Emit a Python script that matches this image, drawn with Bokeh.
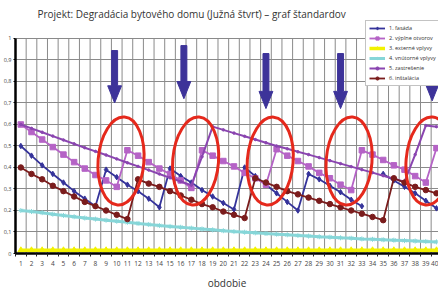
from bokeh.plotting import figure
from bokeh.models import (FixedTicker, Legend, LegendItem, Label, ColumnDataSource,
                          Range1d, CustomJSTickFormatter, PolyAnnotation)
from bokeh.embed import file_html
from bokeh.resources import INLINE

nan = float("nan")

periods = list(range(1, 41))

fasada = [0.50, 0.455, 0.41, 0.37, 0.33, 0.29, 0.255, 0.22,
          0.39, 0.355, 0.32, 0.29, 0.255, 0.215,
          0.395, 0.36, 0.33, 0.295, 0.265, 0.235, 0.205,
          0.40, 0.36, 0.32, 0.28, 0.24, 0.20,
          0.37, 0.345, 0.315, 0.285, 0.25, 0.22,
          nan,
          0.37, 0.34, 0.31, 0.28, 0.245, 0.21]

vyplne = [0.60, 0.565, 0.53, 0.495, 0.46, 0.425, 0.395, 0.365, 0.34, 0.31,
          0.48, 0.455, 0.425, 0.395, 0.37, 0.34, 0.305,
          0.48, 0.455, 0.43, 0.405, 0.375, 0.35, 0.32,
          0.485, 0.455, 0.43, 0.405, 0.375, 0.35, 0.32, 0.295,
          0.48, 0.46, 0.435, 0.41, 0.39, 0.36, 0.33,
          0.49]

externe = [0.015, 0.015, 0.015, 0.015, 0.015, 0.015, 0.015, 0.015, 0.015, 0.015,
           0.015, 0.015, 0.015, 0.015, 0.015, 0.015, 0.015, 0.015, 0.015, 0.015,
           0.015, 0.015, 0.015, 0.015, 0.015, 0.015, 0.015, 0.015, 0.015, 0.015,
           0.015, 0.015, 0.015, 0.015, 0.015, 0.015, 0.015, 0.015, 0.015, 0.015]

vnutorne = [0.20, 0.195, 0.19, 0.183, 0.177, 0.171, 0.165, 0.16, 0.155, 0.15,
            0.145, 0.14, 0.135, 0.13, 0.126, 0.122, 0.118, 0.114, 0.11, 0.106,
            0.102, 0.099, 0.096, 0.093, 0.09, 0.087, 0.084, 0.081, 0.078, 0.076,
            0.073, 0.071, 0.068, 0.066, 0.064, 0.062, 0.06, 0.058, 0.056, 0.054]

zastresenie = [0.60, 0.582, 0.564, 0.546, 0.528, 0.51, 0.492, 0.475, 0.458, 0.44,
               0.422, 0.405, 0.388, 0.37, 0.352, 0.335, 0.318,
               0.45,
               0.59, 0.575, 0.56, 0.545, 0.53, 0.515, 0.50, 0.487, 0.473, 0.46,
               0.446, 0.432, 0.418, 0.404, 0.39, 0.376, 0.362, 0.348, 0.334,
               0.46,
               0.595, 0.59]

instalacia = [0.40, 0.37, 0.345, 0.315, 0.29, 0.265, 0.24, 0.22, 0.20, 0.18, 0.16,
              0.345, 0.325, 0.31, 0.29, 0.27, 0.25, 0.23, 0.215, 0.195, 0.18, 0.165,
              0.35, 0.33, 0.31, 0.29, 0.275, 0.26, 0.245, 0.23, 0.215, 0.20, 0.185, 0.17, 0.155,
              0.35, 0.33, 0.31, 0.295, 0.28]

series_names = ["1. fasáda", "2. výplne otvorov", "3. externé vplyvy",
                "4. vnútorné vplyvy", "5. zastrešenie", "6. inštalácia"]

y_ticks = [0, 0.1, 0.2, 0.3, 0.4, 0.5, 0.6, 0.7, 0.8, 0.9, 1.0]

# annotation shapes (highlighted periods)
ellipse_x = [10.4, 17.4, 24.4, 31.8, 39.3]
ellipse_y = [0.43, 0.43, 0.43, 0.43, 0.43]
arrow_x = [9.8, 16.3, 24.0, 31.0, 39.6]
arrow_top = [0.944, 0.967, 0.93, 0.93, 0.86]
arrow_tip = [0.70, 0.72, 0.674, 0.674, 0.71]

title_text = "Projekt: Degradácia bytového domu (Južná štvrť) – graf štandardov"
x_title = "obdobie"

FONT = "Open Sans"
Y_TOP = 1.1767   # canvas top (title area above the value 1)

p = figure(width=438, height=292, output_backend="svg", toolbar_location=None,
           x_range=Range1d(0.5, 40.19), y_range=Range1d(0, Y_TOP),
           min_border_left=15, min_border_right=0, min_border_top=0,
           min_border_bottom=39)
p.title.visible = False
p.outline_line_color = None
p.background_fill_color = "white"
p.border_fill_color = "white"

# grids: horizontal via ygrid, vertical lines between periods limited to 0..1
p.xgrid.visible = False
p.ygrid.ticker = FixedTicker(ticks=y_ticks)
p.ygrid.grid_line_color = "#8a8a8a"
p.ygrid.grid_line_width = 1
vgrid_x = [i + 0.5 for i in range(0, 41)]
vg = p.segment(x0=vgrid_x, y0=[0] * len(vgrid_x), x1=vgrid_x, y1=[1] * len(vgrid_x),
               line_color="#8a8a8a", line_width=1)
vg.level = "underlay"

# x axis
p.xaxis.ticker = FixedTicker(ticks=periods, minor_ticks=vgrid_x)
p.xaxis.major_tick_out = 0
p.xaxis.major_tick_in = 0
p.xaxis.minor_tick_out = 3
p.xaxis.minor_tick_in = 0
p.xaxis.minor_tick_line_color = "#222222"
p.xaxis.axis_line_width = 2.5
p.xaxis.axis_line_color = "black"
p.xaxis.major_label_text_font_size = "6.5px"
p.xaxis.major_label_text_font = FONT
p.xaxis.major_label_text_color = "#444444"
p.xaxis.major_label_standoff = 4
p.xaxis.axis_label = x_title
p.xaxis.axis_label_text_font = FONT
p.xaxis.axis_label_text_font_size = "10px"
p.xaxis.axis_label_text_font_style = "normal"
p.xaxis.axis_label_text_color = "#333333"
p.xaxis.axis_label_standoff = 7

# y axis
p.yaxis.bounds = (0, 1)
p.yaxis.ticker = FixedTicker(ticks=y_ticks)
p.yaxis.formatter = CustomJSTickFormatter(
    code="if (tick == 0) return '0'; if (tick == 1) return '1'; return tick.toFixed(1).replace('.', ',');")
p.yaxis.major_tick_out = 2
p.yaxis.major_tick_in = 0
p.yaxis.minor_tick_out = 0
p.yaxis.minor_tick_in = 0
p.yaxis.axis_line_width = 2.5
p.yaxis.axis_line_color = "black"
p.yaxis.major_label_text_font_size = "5.5px"
p.yaxis.major_label_text_font = FONT
p.yaxis.major_label_text_color = "#444444"
p.yaxis.major_label_standoff = 2

renderers = {}


def series(y, color, lw, marker, msize, label):
    src = ColumnDataSource(dict(x=periods, y=y))
    l = p.line("x", "y", source=src, line_color=color, line_width=lw)
    s = p.scatter("x", "y", source=src, marker=marker, size=msize,
                  fill_color=color, line_color=color)
    renderers[label] = [l, s]


series(vnutorne, "#86d6d8", 3, "asterisk", 5, series_names[3])
series(externe, "#f2f200", 3.5, "triangle", 6, series_names[2])
series(fasada, "#35339a", 1.8, "diamond", 5.5, series_names[0])
series(vyplne, "#b563c6", 1.8, "square", 5.5, series_names[1])
series(zastresenie, "#8a45b0", 2, "circle", 2.5, series_names[4])
series(instalacia, "#7a1c1c", 1.8, "circle", 5.5, series_names[5])

items = [LegendItem(label=name, renderers=renderers[name]) for name in series_names]

legend = Legend(items=items, location=(350, 167), orientation="vertical",
                label_text_font_size="5.5px", label_text_font=FONT,
                label_text_color="#333333", glyph_width=16, glyph_height=8,
                label_height=8, spacing=2, padding=3, margin=0,
                label_standoff=4, border_line_color="#888888",
                border_line_width=1, background_fill_color="white",
                background_fill_alpha=1, level="glyph")
p.add_layout(legend, "center")

# red ellipses
p.ellipse(x=ellipse_x, y=ellipse_y, width=4.3, height=0.41, angle=-0.08,
          fill_color=None, line_color="#e5291c", line_width=3)

# arrows, painted on top of the legend
hw, hw2, hh = 0.28, 0.65, 0.08
for ax, top, tip in zip(arrow_x, arrow_top, arrow_tip):
    poly = PolyAnnotation(
        xs=[ax - hw, ax + hw, ax + hw, ax + hw2, ax, ax - hw2, ax - hw],
        ys=[top, top, tip + hh, tip + hh, tip, tip + hh, tip + hh],
        fill_color="#3d3399", fill_alpha=1.0, line_color="#3d3399",
        line_width=1, line_alpha=1.0, level="overlay")
    p.add_layout(poly)

p.add_layout(Label(x=2.56, y=1.112, text=title_text, text_font=FONT,
                   text_font_size="10px", text_color="#333333",
                   text_baseline="middle", text_align="left"))

open("out.html", "w").write(file_html(p, INLINE))
